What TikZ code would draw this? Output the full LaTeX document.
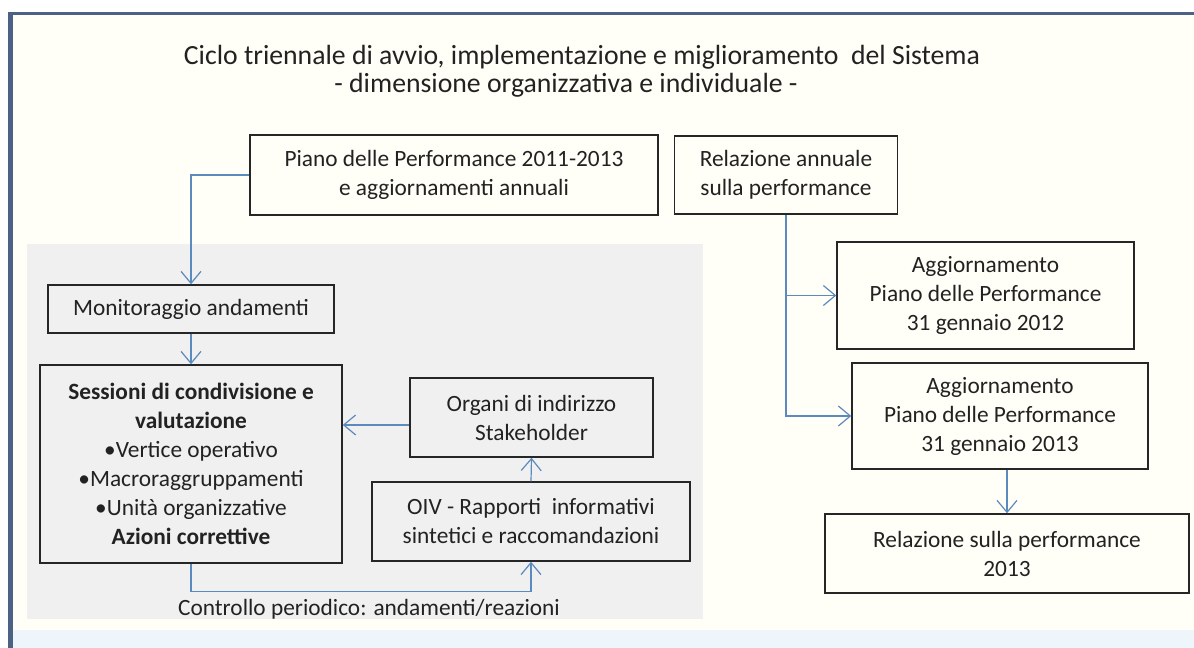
\documentclass[tikz,border=0pt]{standalone}
\usepackage{fontspec}
\setmainfont{Carlito}
\usetikzlibrary{arrows.meta}
\definecolor{frameblue}{HTML}{4C6183}
\definecolor{arrowblue}{HTML}{5B8BBE}
\definecolor{greyarea}{HTML}{F0F0F0}
\definecolor{cream}{HTML}{FFFEF7}
\definecolor{paleblue}{HTML}{EEF6FB}
\definecolor{txt}{HTML}{222222}
\tikzset{
  box/.style={draw=black!85, line width=1.1pt, text=txt, align=center, inner sep=2pt, font=\fontsize{17.5}{21.75}\selectfont},
  arr/.style={draw=arrowblue, line width=0.9pt, -{Straight Barb[length=9pt,width=15pt,line width=0.9pt]}},
  lbl/.style={text=txt, font=\fontsize{17.5}{21.75}\selectfont},
  ttl/.style={text=txt, font=\fontsize{20.8}{21}\selectfont}
}
\begin{document}
\begin{tikzpicture}[x=0.75pt,y=-0.75pt]
\useasboundingbox (0,0) rectangle (1194,648);
\fill[white] (0,0) rectangle (1194,648);
\fill[cream] (10,13) rectangle (1194,648);
\fill[paleblue] (10,630) rectangle (1194,648);
\fill[greyarea] (27,244) rectangle (703,619);
\draw[frameblue, line width=2.8pt] (8,13.5) -- (1194,13.5);
\draw[frameblue, line width=4pt] (10.5,12) -- (10.5,648);

\node[ttl] (t1) at (582,57) {Ciclo triennale di avvio, implementazione e miglioramento\ \ del Sistema};
\node[ttl] (t2) at (566,85) {- dimensione organizzativa e individuale -};

\node[box, minimum width=408*0.75pt, minimum height=80*0.75pt] (piano) at (454,175) {Piano delle Performance 2011-2013\\e aggiornamenti annuali};
\node[box, minimum width=223*0.75pt, minimum height=78*0.75pt] (relann) at (786,175) {Relazione annuale\\sulla performance};
\node[box, minimum width=297*0.75pt, minimum height=107*0.75pt] (agg12) at (985.5,295.5) {Aggiornamento\\Piano delle Performance\\31 gennaio 2012};
\node[box, minimum width=296*0.75pt, minimum height=106*0.75pt] (agg13) at (1000,416) {Aggiornamento\\Piano delle Performance\\31 gennaio 2013};
\node[box, minimum width=364*0.75pt, minimum height=79*0.75pt] (rel13) at (1007,553.5) {Relazione sulla performance\\2013};
\node[box, minimum width=286*0.75pt, minimum height=48*0.75pt] (monit) at (191,309) {Monitoraggio andamenti};
\node[box, minimum width=302*0.75pt, minimum height=198*0.75pt] (sess) at (191,464) {\textbf{Sessioni di condivisione e}\\\textbf{valutazione}\\•Vertice operativo\\•Macroraggruppamenti\\•Unità organizzative\\\textbf{Azioni correttive}};
\node[box, minimum width=243*0.75pt, minimum height=79*0.75pt] (organi) at (531.5,417.5) {Organi di indirizzo\\Stakeholder};
\node[box, minimum width=318*0.75pt, minimum height=79*0.75pt] (oiv) at (531,521.5) {OIV - Rapporti\ \ informativi\\sintetici e raccomandazioni};
\node[lbl] (ctrl) at (369,609) {Controllo periodico: andamenti/reazioni};

\draw[arr] (piano.west) -| (monit.north);
\draw[arr] (monit.south) -- (sess.north);
\draw[arr] ([yshift=-5.6pt]organi.west) -- ([yshift=-5.6pt]organi.west -| sess.east);
\draw[arr] (oiv.north) -- (organi.south);
\draw[arr] (sess.south) -- ++(0,28) -| (oiv.south);
\draw[arr] (relann.south) |- (agg13.west);
\draw[arr] (relann.south |- agg12.west) -- (agg12.west);
\draw[arr] (rel13.north |- agg13.south) -- (rel13.north);
\end{tikzpicture}
\end{document}
